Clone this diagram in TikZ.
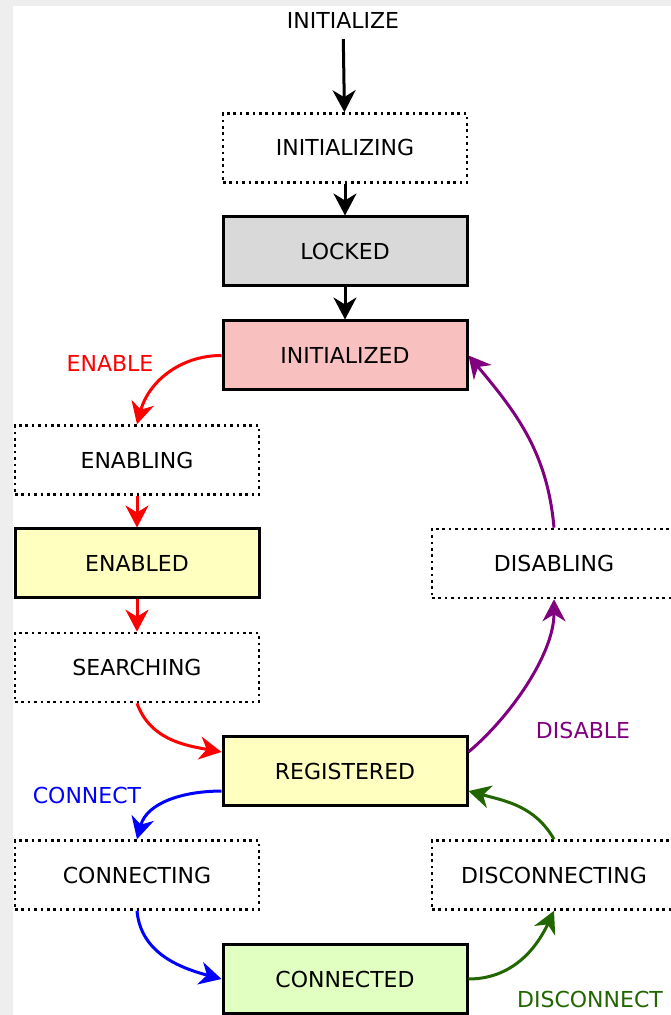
\documentclass[tikz,border=0pt]{standalone}
\usepackage{fontspec}
\setmainfont{DejaVu Sans}
\usetikzlibrary{arrows.meta}
\definecolor{pagegray}{RGB}{238,238,238}
\definecolor{lockedgray}{RGB}{217,217,217}
\definecolor{initpink}{RGB}{249,192,192}
\definecolor{regyellow}{RGB}{255,255,192}
\definecolor{connectgreen}{RGB}{224,255,192}
\definecolor{discgreen}{RGB}{34,102,0}
\definecolor{dispurple}{RGB}{128,0,128}
\newcommand{\statefont}{\fontsize{22}{25}\selectfont}
\tikzset{>={Stealth[length=22pt,width=23pt,inset=7pt]}}
\tikzset{state/.style = {draw, line width = 3pt, minimum width = 244pt, minimum height = 69pt, inner sep = 0pt, font = \statefont},
  transient/.style = {state, line width = 2.6pt, dash pattern = on 2.6pt off 3.8pt},
  event/.style = {inner sep = 0pt, font = \statefont},
  trans/.style = {->, line width = 3pt}}

\begin{document}
\begin{tikzpicture}[x = 1pt, y = 1pt]
\fill[pagegray] (0,0) rectangle (671,1015);
\fill[white] (13,0) rectangle (671,1009);
\clip (0,0) rectangle (671,1015);
\node[event] (initialize) at (343,995) {INITIALIZE};
\node[transient] (initializing) at (345,867) {INITIALIZING};
\node[state, fill = lockedgray] (locked) at (345,763.5) {LOCKED};
\node[state, fill = initpink] (initialized) at (345,659.5) {INITIALIZED};
\node[transient] (enabling) at (137,555) {ENABLING};
\node[state, fill = regyellow] (enabled) at (137,451.5) {ENABLED};
\node[transient] (searching) at (137,347.5) {SEARCHING};
\node[state, fill = regyellow] (registered) at (345,243.5) {REGISTERED};
\node[transient] (connecting) at (137,140) {CONNECTING};
\node[state, fill = connectgreen] (connected) at (345,36) {CONNECTED};
\node[transient] (disabling) at (554,451.5) {DISABLING};
\node[transient] (disconnecting) at (554,140) {DISCONNECTING};
\node[event, text = red] (enable) at (110,652) {ENABLE};
\node[event, text = dispurple] (disable) at (583,285) {DISABLE};
\node[event, text = blue] (connect) at (87,220) {CONNECT};
\node[event, text = discgreen, anchor = base, text depth = 0pt] (disconnect) at (590,8) {DISCONNECT};
\draw[trans, shorten <= 11pt] (initialize) -- (initializing);
\draw[trans] (initializing) -- (locked);
\draw[trans] (locked) -- (initialized);
\draw[trans, red] (initialized.west) to[out = 180, in = 75] (enabling.north);
\draw[trans, red] (enabling) -- (enabled);
\draw[trans, red] (enabled) -- (searching);
\draw[trans, red] (searching.south) to[out = -70, in = 170] (registered.171);
\draw[trans, blue] (registered.189) to[out = 180, in = 75] (connecting.north);
\draw[trans, blue] (connecting.south) to[out = -85, in = 165] (connected.west);
\draw[trans, discgreen] (connected.east) to[out = 0, in = -115] (disconnecting.south);
\draw[trans, discgreen] (disconnecting.north) to[out = 120, in = -15] (registered.351);
\draw[trans, dispurple] (registered.9) to[out = 40, in = -90, looseness = 0.8] (disabling.south);
\draw[trans, dispurple] (disabling.north) to[out = 95, in = -50] (initialized.east);
\end{tikzpicture}
\end{document}
